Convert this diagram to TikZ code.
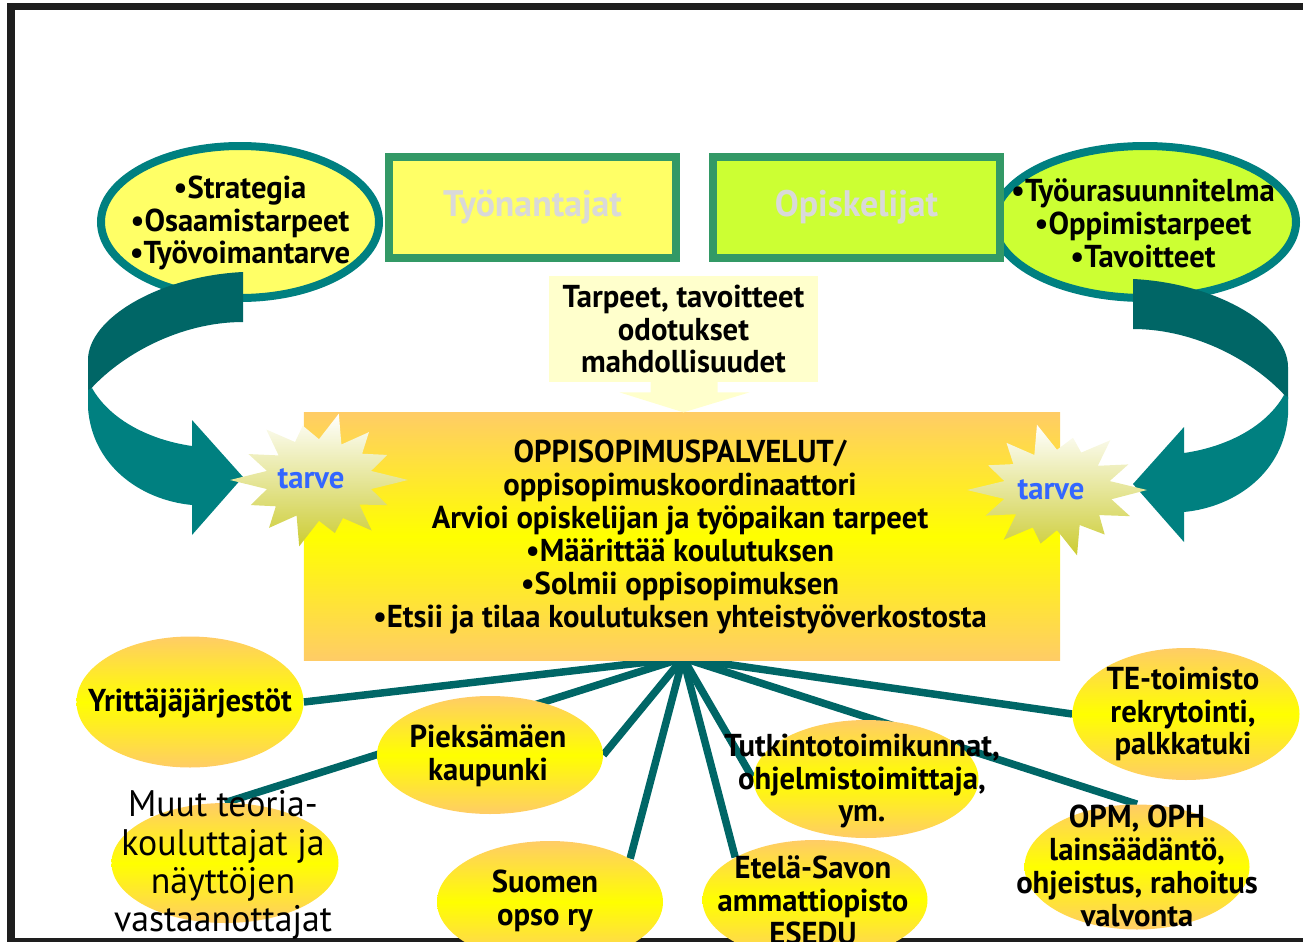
\documentclass[tikz,border=0pt]{standalone}
\usepackage{fontspec}
\setmainfont{PT Sans}[FakeStretch=0.97]
\usetikzlibrary{shapes.geometric, backgrounds}

\definecolor{tealline}{HTML}{006666}
\definecolor{tealring}{HTML}{008080}
\definecolor{boxgreen}{HTML}{339966}
\definecolor{paleyellow}{HTML}{FFFF66}
\definecolor{limegreen}{HTML}{CCFF33}
\definecolor{boxorange}{HTML}{FFCC66}
\definecolor{calloutyellow}{HTML}{FFFFCC}
\definecolor{tarveblue}{HTML}{3366FF}
\definecolor{titlegray}{HTML}{D9D9D9}
\definecolor{staryellow}{HTML}{CCCC33}
\definecolor{framegray}{HTML}{1E1E1E}

\tikzset{
  bodytext/.style={font=\bfseries\fontsize{18}{18.7}\selectfont, align=center, inner sep=0pt},
  plaintext/.style={font=\fontsize{21}{21.8}\selectfont, align=center, inner sep=0pt},
  needtext/.style={bodytext, text=tarveblue},
  topoval/.style={ellipse, draw=tealring, line width=1.6mm, inner sep=0pt, minimum height=30.4mm},
  rolebox/.style={rectangle, draw=boxgreen, line width=1.6mm, minimum width=57.4mm, minimum height=20.2mm,
    font=\bfseries\fontsize{21}{22}\selectfont, text=titlegray},
  glow/.style={top color=boxorange, bottom color=boxorange, middle color=yellow},
  partner/.style={ellipse, glow, inner sep=0pt, minimum width=45.2mm, minimum height=24mm},
  link/.style={tealline, line width=1.5mm},
  starburst/.style={top color=white, bottom color=staryellow},
}

\begin{document}
\begin{tikzpicture}[x=0.2mm, y=-0.2mm]
  \useasboundingbox (0,0) rectangle (1303,942);
  \clip (0,0) rectangle (1303,942);

  % Frame:
  \draw[framegray, line width=1.6mm] (11,942) -- (11,3);
  \draw[framegray, line width=1.4mm] (7,6.5) -- (1303,6.5);
  \draw[framegray, line width=1.4mm] (7,941.5) -- (1303,941.5);

  % Employer and student side:
  \node[topoval, fill=paleyellow, minimum width=55.6mm] (strat) at (240,222) {};
  \node[bodytext] (strat-t) at (240,223) {•Strategia\\•Osaamistarpeet\\•Työvoimantarve};
  \node[topoval, fill=limegreen, minimum width=60.4mm] (goals) at (1145,222) {};
  \node[bodytext] (goals-t) at (1143,223) {•Työurasuunnitelma\\•Oppimistarpeet\\•Tavoitteet};
  \node[rolebox, fill=paleyellow] (emp) at (532.5,207.5) {Työnantajat};
  \node[rolebox, fill=limegreen] (stud) at (856.5,207) {Opiskelijat};

  % Curved arrows:
  \fill[tealline] (243,272) .. controls (160,276) and (88,318) .. (88,360) -- (88,392)
    .. controls (120,355) and (180,322) .. (243,322) -- cycle;
  \fill[tealring] (88,390) -- (88,408) .. controls (92,465) and (140,500) .. (192,505) -- (192,535)
    -- (243,477) -- (192,420) -- (192,446) .. controls (150,440) and (110,420) .. (92,388) -- cycle;
  \begin{scope}[shift={(1376,7)}, xscale=-1]
    \fill[tealline] (243,272) .. controls (160,276) and (88,318) .. (88,360) -- (88,392)
      .. controls (120,355) and (180,322) .. (243,322) -- cycle;
    \fill[tealring] (88,390) -- (88,408) .. controls (92,465) and (140,500) .. (192,505) -- (192,535)
      -- (243,477) -- (192,420) -- (192,446) .. controls (150,440) and (110,420) .. (92,388) -- cycle;
  \end{scope}

  % Centre:
  \node[rectangle, glow, minimum width=151.2mm, minimum height=49.6mm] (opso) at (682,536) {};
  \node[bodytext] (opso-t) at (680,537) {OPPISOPIMUSPALVELUT/\\oppisopimuskoordinaattori\\Arvioi opiskelijan ja työpaikan tarpeet\\•Määrittää koulutuksen\\•Solmii oppisopimuksen\\•Etsii ja tilaa koulutuksen yhteistyöverkostosta};

  \node[rectangle, fill=calloutyellow, minimum width=53.8mm, minimum height=21.2mm, bodytext] (tarp) at (683.5,329) {Tarpeet, tavoitteet\\odotukset\\mahdollisuudet};
  \fill[calloutyellow] (tarp.south) ++(-33,-1) -- ++(0,11) -- ++(-31,0) -- ++(64,20) -- ++(66,-20) -- ++(-32,0) -- ++(0,-11) -- cycle;

  \begin{scope}[shift={(319,480)}]
    \path[starburst] (0:89 and 68) \foreach \r [count=\k] in {.6,.85,.58,.95,.62,.8,.6,1,.58,.9,.62,.85,.6,1,.6,.88,.58,.95,.62,.82,.6,1,.58,.9,.62,.85,.6}
      { -- ({\k*360/28}:{89*\r} and {68*\r}) } -- cycle;
  \end{scope}
  \node[needtext] (need-l) at (311,479) {tarve};
  \begin{scope}[shift={(1057,490)}]
    \path[starburst] (0:90 and 67) \foreach \r [count=\k] in {.62,.9,.6,.85,.58,1,.6,.82,.62,.95,.58,.88,.6,1,.6,.85,.62,.9,.58,1,.6,.8,.62,.95,.58,.88,.6}
      { -- ({\k*360/28}:{90*\r} and {67*\r}) } -- cycle;
  \end{scope}
  \node[needtext] (need-r) at (1051,490) {tarve};

  % Network:
  \coordinate (hub) at (683,658);
  \node[partner, minimum width=45.4mm, minimum height=26.2mm] (yritt) at (190,702) {};
  \node[bodytext] (yritt-t) at (190,703) {Yrittäjäjärjestöt};
  \node[partner, minimum height=23.6mm] (pieks) at (490,755) {};
  \node[bodytext] (pieks-t) at (488,756) {Pieksämäen\\kaupunki};
  \node[partner, minimum width=45.4mm] (muut) at (225,863) {};
  \node[plaintext] (muut-t) at (223,865) {Muut teoria-\\kouluttajat ja\\näyttöjen\\vastaanottajat};
  \node[partner, minimum height=24.4mm] (suomen) at (550,902) {};
  \node[bodytext] (suomen-t) at (545,901) {Suomen\\opso ry};
  \node[partner, minimum width=45mm, minimum height=23.6mm] (tutk) at (866,779) {};
  \node[bodytext] (tutk-t) at (862,781) {Tutkintotoimikunnat,\\ohjelmistoimittaja,\\ym.};
  \node[partner, minimum width=45mm] (esedu) at (815,900) {};
  \node[bodytext] (esedu-t) at (813,900) {Etelä-Savon\\ammattiopisto\\ESEDU};
  \node[partner, minimum width=45.4mm, minimum height=26.4mm] (te) at (1186,714) {};
  \node[bodytext] (te-t) at (1183,714) {TE-toimisto\\rekrytointi,\\palkkatuki};
  \node[partner, minimum width=45mm, minimum height=25mm] (opm) at (1137,867) {};
  \node[bodytext] (opm-t) at (1137,866) {OPM, OPH\\lainsäädäntö,\\ohjeistus, rahoitus\\valvonta};

  \begin{scope}[on background layer]
    \foreach \t in {yritt.east, muut.north, pieks.east, suomen.north east, esedu.north west, tutk.west, opm.north, te.west}
      \draw[link] (hub) -- (\t);
  \end{scope}
\end{tikzpicture}
\end{document}
